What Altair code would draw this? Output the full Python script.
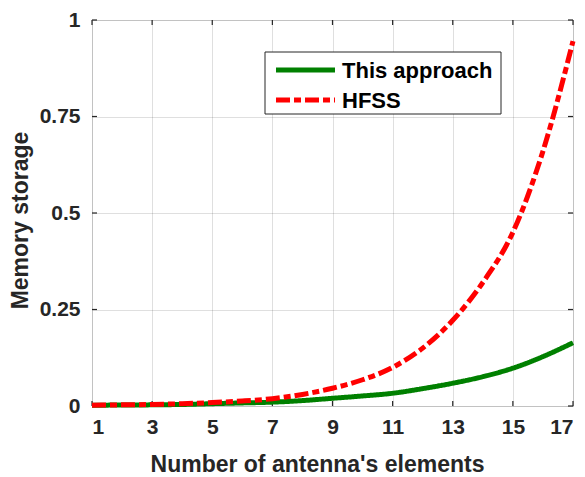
import altair as alt
import pandas as pd

elements = list(range(1, 18))
this_approach = [0.002, 0.0025, 0.003, 0.004, 0.006, 0.008, 0.010, 0.014, 0.020,
                 0.026, 0.033, 0.045, 0.059, 0.076, 0.098, 0.128, 0.164]
hfss = [0.002, 0.003, 0.004, 0.006, 0.009, 0.013, 0.019, 0.030, 0.046,
        0.068, 0.100, 0.150, 0.222, 0.320, 0.450, 0.660, 0.945]
series_names = ["This approach", "HFSS"]
series_colors = ["#008000", "#ff0000"]
series_dash = [[1, 0], [14, 4, 7, 4]]
legend_dash = [[1, 0], [26, 6, 10, 6, 11, 0]]
x_ticks = [1, 3, 5, 7, 9, 11, 13, 15, 17]
y_ticks = [0, 0.25, 0.5, 0.75, 1]

rows = []
for i, n in enumerate(elements):
    rows.append({"n": n, "v": this_approach[i], "s": series_names[0], "o": 0})
for i, n in enumerate(elements):
    rows.append({"n": n, "v": hfss[i], "s": series_names[1], "o": 1})
df = pd.DataFrame(rows)

W, H = 481, 386
FONT = "Liberation Sans"

xs = alt.Scale(domain=[1, 17], nice=False)
ys = alt.Scale(domain=[0, 1], nice=False)
cs = alt.Scale(domain=series_names, range=series_colors)
ds = alt.Scale(domain=series_names, range=series_dash)
lds = alt.Scale(domain=series_names, range=legend_dash)

lines = alt.Chart(df).mark_line(strokeWidth=5, interpolate="monotone").encode(
    x=alt.X("n:Q", scale=xs,
            axis=alt.Axis(values=x_ticks, title="Number of antenna's elements", grid=True,
                          labelFontSize=21, labelFontWeight="bold", labelColor="#262626",
                          titleFontSize=23, titleFontWeight="bold", titleColor="#262626",
                          labelPadding=10, tickSize=0, domain=False,
                          titleX=225, titleY=58, titleBaseline="middle", titleAlign="center",
                          labelFont=FONT, titleFont=FONT, gridColor="#262626", gridOpacity=0.15)),
    y=alt.Y("v:Q", scale=ys,
            axis=alt.Axis(values=y_ticks, title="Memory storage", grid=True,
                          labelFontSize=21, labelFontWeight="bold", labelColor="#262626",
                          titleFontSize=23, titleFontWeight="bold", titleColor="#262626",
                          labelPadding=12, tickSize=0, domain=False,
                          titleX=-72, titleY=200, titleBaseline="middle", titleAlign="center",
                          titleAngle=270,
                          labelFont=FONT, titleFont=FONT, gridColor="#262626", gridOpacity=0.15,
                          labelExpr="format(datum.value, '~g')")),
    color=alt.Color("s:N", scale=cs, legend=None),
    strokeDash=alt.StrokeDash("s:N", scale=ds, legend=None),
    order=alt.Order("o:Q"),
)

tick_df_x = pd.DataFrame({"t": x_ticks})
tick_df_y = pd.DataFrame({"t": y_ticks})
tick_style = dict(color="#262626", strokeWidth=1.2)
bx = alt.Chart(tick_df_x).mark_rule(**tick_style).encode(
    x=alt.X("t:Q", scale=xs), y=alt.value(H), y2=alt.value(H - 5))
tx = alt.Chart(tick_df_x).mark_rule(**tick_style).encode(
    x=alt.X("t:Q", scale=xs), y=alt.value(0), y2=alt.value(5))
ly = alt.Chart(tick_df_y).mark_rule(**tick_style).encode(
    y=alt.Y("t:Q", scale=ys), x=alt.value(0), x2=alt.value(5))
ry = alt.Chart(tick_df_y).mark_rule(**tick_style).encode(
    y=alt.Y("t:Q", scale=ys), x=alt.value(W - 5), x2=alt.value(W))

# legend (drawn as marks)
leg_df = pd.DataFrame({"s": series_names, "row": [0, 1]})
LX, LY, LW, LH = 173, 32, 236, 62
leg_box = alt.Chart(pd.DataFrame({"a": [0]})).mark_rect(
    fill="white", stroke="#262626", strokeWidth=1).encode(
    x=alt.value(LX), x2=alt.value(LX + LW), y=alt.value(LY), y2=alt.value(LY + LH))
leg_parts = []
for r, name in enumerate(series_names):
    yy = LY + 18 + 30 * r
    sub = leg_df[leg_df["s"] == name]
    leg_parts.append(alt.Chart(sub).mark_rule(strokeWidth=5).encode(
        x=alt.value(LX + 11), x2=alt.value(LX + 70), y=alt.value(yy),
        color=alt.Color("s:N", scale=cs, legend=None),
        strokeDash=alt.StrokeDash("s:N", scale=lds, legend=None)))
    leg_parts.append(alt.Chart(sub).mark_text(
        align="left", baseline="middle", font=FONT, fontSize=22, fontWeight="bold",
        color="black").encode(x=alt.value(LX + 77), y=alt.value(yy + 1), text="s:N"))

chart = alt.layer(bx, tx, ly, ry, lines, leg_box, *leg_parts).properties(
    width=W, height=H,
    autosize=alt.AutoSizeParams(type="none"),
    padding={"left": 84, "top": 12, "right": 4, "bottom": 71},
).configure_view(stroke="#333333", strokeWidth=1.5).configure(background="white")

chart.save("out.html", embed_options={"renderer": "svg", "actions": False})
